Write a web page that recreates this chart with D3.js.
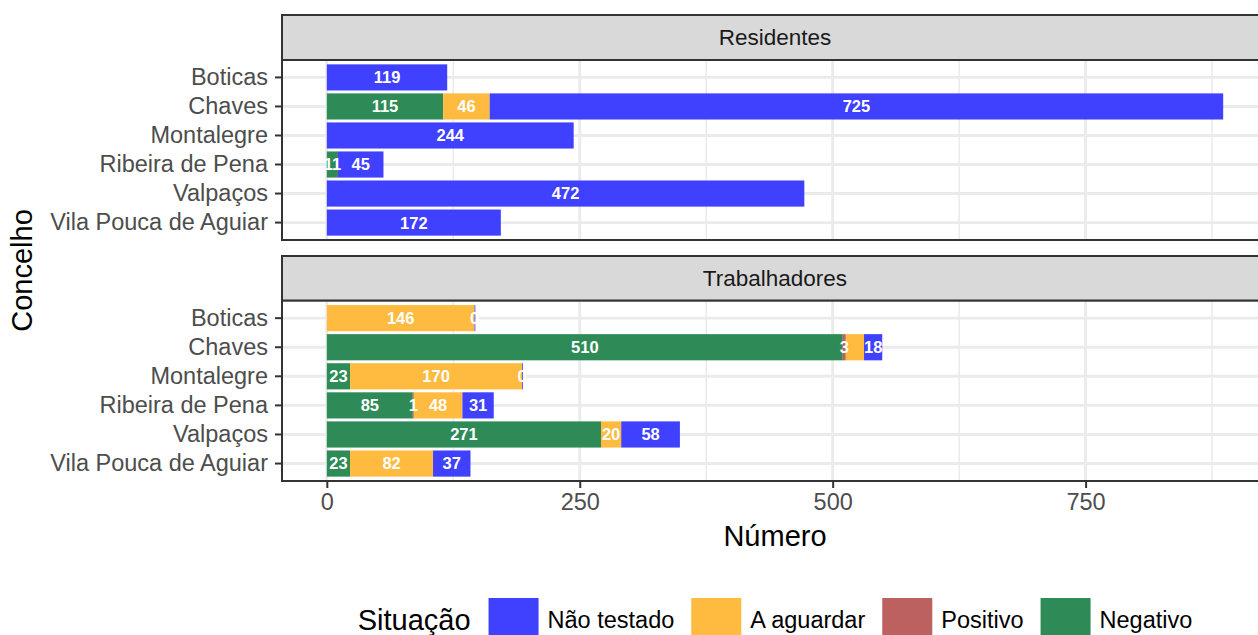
<!DOCTYPE html>
<html>
<head>
<meta charset="utf-8">
<script src="https://cdn.jsdelivr.net/npm/d3@7"></script>
<style>
  body { margin: 0; background: #fff; }
  svg { font-family: "Liberation Sans", Arial, sans-serif; display: block; }
</style>
</head>
<body>
<svg id="chart" width="1258" height="635"></svg>
<script>
// categories
const concelhos = ["Boticas", "Chaves", "Montalegre", "Ribeira de Pena", "Valpaços", "Vila Pouca de Aguiar"];
const paineis = ["Residentes", "Trabalhadores"];
const situacoes = ["Não testado", "A aguardar", "Positivo", "Negativo"];
const cores = ["#4040FF", "#FFBA40", "#BC6060", "#2E8B57"];
const xTicks = [0, 250, 500, 750];

// values per situação, one entry per concelho (null = no row)
const naoTestadoRes = [119, 725, 244, 45, 472, 172];
const aguardarRes   = [null, 46, null, null, null, null];
const positivoRes   = [null, null, null, null, null, null];
const negativoRes   = [null, 115, null, 11, null, null];

const naoTestadoTrab = [0, 18, 0, 31, 58, 37];
const aguardarTrab   = [146, 18, 170, 48, 20, 82];
const positivoTrab   = [null, 3, null, 1, null, null];
const negativoTrab   = [null, 510, 23, 85, 271, 23];

function rows(nt, ag, po, ne) {
    return concelhos.map((c, i) => ({
        concelho: c,
        "Não testado": nt[i], "A aguardar": ag[i], "Positivo": po[i], "Negativo": ne[i]
    }));
}
const dados = {
    "Residentes": rows(naoTestadoRes, aguardarRes, positivoRes, negativoRes),
    "Trabalhadores": rows(naoTestadoTrab, aguardarTrab, positivoTrab, negativoTrab)
};

let svg = d3.select("#chart");
let color = d3.scaleOrdinal().domain(situacoes).range(cores);

// stacked left to right: reverse of legend order
let stackKeys = situacoes.slice().reverse();
let stack = d3.stack().keys(stackKeys).value((d, k) => d[k] == null ? 0 : d[k]);

let maxTotal = d3.max(paineis, p => d3.max(dados[p], d => d3.sum(stackKeys, k => d[k] || 0)));
let pad = maxTotal * 0.05;

let left = 282, right = 1268;
let x = d3.scaleLinear().domain([-pad, maxTotal + pad]).range([left, right]);

let panels = [
    {name: "Residentes", stripTop: 15, top: 60, bottom: 240},
    {name: "Trabalhadores", stripTop: 256, top: 300.7, bottom: 481}
];

let labelOrder = ["Não testado", "Positivo", "A aguardar", "Negativo"];

panels.forEach((p, pi) => {
    let y = d3.scaleBand().domain(concelhos).range([p.top, p.bottom]).paddingInner(0.1).paddingOuter(0.15);
    let g = svg.append("g");

    // strip
    g.append("rect")
        .attr("x", left).attr("y", p.stripTop)
        .attr("width", right - left).attr("height", p.top - p.stripTop)
        .attr("fill", "#D9D9D9").attr("stroke", "#333333").attr("stroke-width", 2);
    g.append("text")
        .attr("x", (left + right) / 2).attr("y", (p.stripTop + p.top) / 2)
        .attr("dy", "0.35em").attr("text-anchor", "middle")
        .attr("fill", "#1A1A1A").attr("font-size", 22.5)
        .text(p.name);

    // panel background and grid
    g.append("rect")
        .attr("x", left).attr("y", p.top)
        .attr("width", right - left).attr("height", p.bottom - p.top)
        .attr("fill", "#fff");
    let minor = d3.range(125, maxTotal + pad, 250);
    g.selectAll(".minor").data(minor).enter().append("line")
        .attr("x1", d => x(d)).attr("x2", d => x(d))
        .attr("y1", p.top).attr("y2", p.bottom)
        .attr("stroke", "#EBEBEB").attr("stroke-width", 1.5);
    g.selectAll(".majorx").data(xTicks).enter().append("line")
        .attr("x1", d => x(d)).attr("x2", d => x(d))
        .attr("y1", p.top).attr("y2", p.bottom)
        .attr("stroke", "#EBEBEB").attr("stroke-width", 2.9);
    g.selectAll(".majory").data(concelhos).enter().append("line")
        .attr("x1", left).attr("x2", right)
        .attr("y1", d => y(d) + y.bandwidth() / 2).attr("y2", d => y(d) + y.bandwidth() / 2)
        .attr("stroke", "#EBEBEB").attr("stroke-width", 2.9);

    // bars
    let series = stack(dados[p.name]);
    let bars = g.append("g");
    series.forEach(s => {
        bars.selectAll(null).data(s.filter(d => d.data[s.key] != null)).enter().append("rect")
            .attr("x", d => x(d[0]))
            .attr("width", d => Math.max(x(d[1]) - x(d[0]), 0.8))
            .attr("y", d => y(d.data.concelho))
            .attr("height", y.bandwidth())
            .attr("fill", color(s.key));
    });

    // labels, skipping ones that overlap (like check_overlap)
    let lab = g.append("g");
    dados[p.name].forEach((row, ri) => {
        let placed = [];
        labelOrder.forEach(k => {
            if (row[k] == null) return;
            let s = series.find(ss => ss.key == k);
            let d = s[ri];
            let cx = x((d[0] + d[1]) / 2);
            let t = lab.append("text")
                .attr("x", cx).attr("y", y(row.concelho) + y.bandwidth() / 2)
                .attr("dy", "0.36em").attr("text-anchor", "middle")
                .attr("fill", "#fff").attr("font-weight", "bold").attr("font-size", 16.5)
                .text(row[k]);
            let w = t.node().getComputedTextLength();
            let box = [cx - w / 2, cx + w / 2];
            if (placed.some(b => box[0] < b[1] && box[1] > b[0])) {
                t.remove();
            } else {
                placed.push(box);
            }
        });
    });

    // panel border
    g.append("rect")
        .attr("x", left).attr("y", p.top)
        .attr("width", right - left).attr("height", p.bottom - p.top)
        .attr("fill", "none").attr("stroke", "#333333").attr("stroke-width", 2);

    // y axis
    let ya = g.append("g").attr("transform", "translate(" + left + ",0)")
        .call(d3.axisLeft(y).tickSize(7).tickPadding(7));
    ya.select(".domain").remove();
    ya.selectAll("line").attr("stroke", "#333333").attr("stroke-width", 2);
    ya.selectAll("text").attr("fill", "#4D4D4D").attr("font-size", 23.5)
        .attr("font-family", "Liberation Sans, Arial, sans-serif");

    if (pi == panels.length - 1) {
        let xa = g.append("g").attr("transform", "translate(0," + p.bottom + ")")
            .call(d3.axisBottom(x).tickValues(xTicks).tickSize(7).tickPadding(5));
        xa.select(".domain").remove();
        xa.selectAll("line").attr("stroke", "#333333").attr("stroke-width", 2);
        xa.selectAll("text").attr("fill", "#4D4D4D").attr("font-size", 23.5)
            .attr("font-family", "Liberation Sans, Arial, sans-serif");
    }
});

// axis titles
svg.append("text")
    .attr("x", (left + right) / 2).attr("y", 546)
    .attr("text-anchor", "middle").attr("font-size", 29).attr("fill", "#000")
    .text("Número");
svg.append("text")
    .attr("transform", "translate(32," + ((60 + 481) / 2) + ") rotate(-90)")
    .attr("text-anchor", "middle").attr("font-size", 29).attr("fill", "#000")
    .text("Concelho");

// legend
let leg = svg.append("g");
let legY = 620;
let title = leg.append("text")
    .attr("x", 0).attr("y", legY).attr("dy", "0.35em")
    .attr("font-size", 29).attr("fill", "#000").text("Situação");
let cursor = title.node().getComputedTextLength() + 18;
situacoes.forEach((s, i) => {
    leg.append("rect")
        .attr("x", cursor).attr("y", legY - 22)
        .attr("width", 50).attr("height", 46)
        .attr("fill", color(s));
    let t = leg.append("text")
        .attr("x", cursor + 59).attr("y", legY).attr("dy", "0.35em")
        .attr("font-size", 23.5).attr("fill", "#000").text(s);
    cursor += 59 + t.node().getComputedTextLength() + 17;
});
let legW = cursor - 17;
leg.attr("transform", "translate(" + ((left + right) / 2 - legW / 2) + ",0)");
</script>
</body>
</html>
